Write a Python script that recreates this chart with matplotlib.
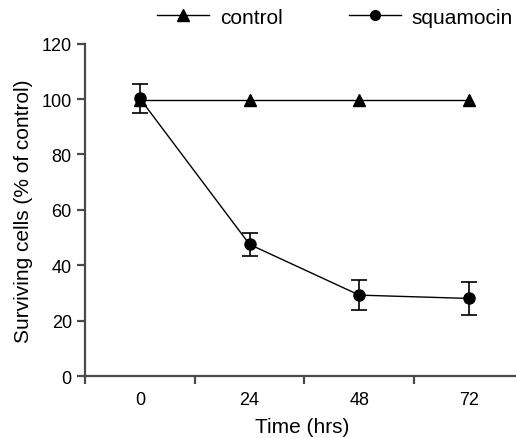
import numpy as np
import matplotlib
matplotlib.use("Agg")
import matplotlib.pyplot as plt
from matplotlib.ticker import FixedLocator, NullFormatter
from matplotlib.lines import Line2D

plt.rcParams['font.family'] = ['Liberation Sans', 'DejaVu Sans']

# data
times = ["0", "24", "48", "72"]
control = [99.6, 99.6, 99.6, 99.6]
squamocin = [100.2, 47.5, 29.2, 28.0]
squamocin_err = [5.1, 4.2, 5.5, 6.0]

fig = plt.figure(figsize=(5.16, 4.39), dpi=100)
ax = fig.add_axes([0.1647, 0.1412, 0.84, 0.7572])

x = np.arange(len(times))
ax.plot(x, control, color="black", lw=1.0, marker="^", ms=8.5, zorder=3)
ax.errorbar(x, squamocin, yerr=squamocin_err, color="black", lw=1.0,
            marker="o", ms=8, capsize=6, elinewidth=1.2, capthick=1.2,
            zorder=4)

spine_col = "#4a4a4a"
for s in ["top", "right"]:
    ax.spines[s].set_visible(False)
for s in ["left", "bottom"]:
    ax.spines[s].set_color(spine_col)
    ax.spines[s].set_linewidth(1.6)

ax.set_ylim(0, 120)
ax.set_yticks([0, 20, 40, 60, 80, 100, 120])
ax.set_xlim(-0.5, 3.45)

# category labels at centres, tick marks at the boundaries
ax.xaxis.set_major_locator(FixedLocator(x))
ax.set_xticklabels(times)
ax.xaxis.set_minor_locator(FixedLocator([-0.5, 0.5, 1.5, 2.5]))
ax.xaxis.set_minor_formatter(NullFormatter())
ax.tick_params(axis="x", which="major", length=0, pad=11, labelsize=13)
ax.tick_params(axis="x", which="minor", length=6, width=1.6, color=spine_col)
ax.tick_params(axis="y", length=6, width=1.6, color=spine_col, labelsize=13)

ax.set_xlabel("Time (hrs)", fontsize=15, labelpad=6)
ax.set_ylabel("Surviving cells (% of control)", fontsize=15, labelpad=6)

handles = [
    Line2D([], [], color="black", lw=1.0, marker="^", ms=8.5),
    Line2D([], [], color="black", lw=1.0, marker="o", ms=7),
]
ax.legend(handles, ["control", "squamocin"], loc="center",
          bbox_to_anchor=(0.577, 1.08), ncol=2, frameon=False,
          fontsize=15, handlelength=2.5, columnspacing=3.2,
          handletextpad=0.5, borderpad=0, borderaxespad=0)

fig.savefig("out.png", dpi=100)
